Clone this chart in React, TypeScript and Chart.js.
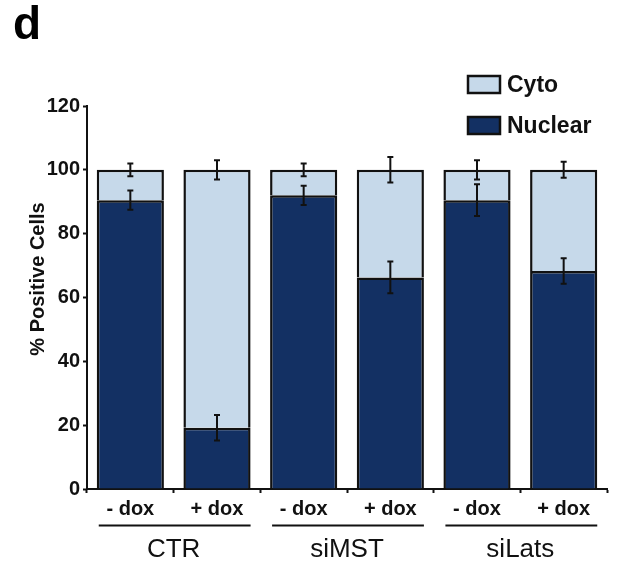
import React, { useEffect, useRef } from "react";
import { Chart, registerables } from "chart.js";

Chart.register(...registerables);

const categories = ["- dox", "+ dox", "- dox", "+ dox", "- dox", "+ dox"];
const groups = ["CTR", "siMST", "siLats"];
const nuclear = [90.5, 19.2, 92.0, 66.3, 90.5, 68.3];
const cyto = [9.5, 80.8, 8.0, 33.7, 9.5, 31.7];
const nuclearErr = [3, 4, 3, 5, 5, 4];
const cytoErr = [2, 3, 2, 4, 3, 2.5];
const yTicks = [0, 20, 40, 60, 80, 100, 120];

const CYTO_COLOR = "#C6D9EA";
const NUC_COLOR = "#133063";
const INK = "#111111";
const FONT = "'Liberation Sans', Arial, Helvetica, sans-serif";

const decorPlugin = {
  id: "decor",
  afterDatasetsDraw(chart: any) {
    const ctx = chart.ctx;
    const x = chart.scales.x;
    const y = chart.scales.y;
    ctx.save();
    // error bars
    ctx.strokeStyle = INK;
    ctx.lineWidth = 2;
    const cap = 3;
    const drawErr = (cx: number, v: number, e: number) => {
      const y1 = y.getPixelForValue(v - e);
      const y2 = y.getPixelForValue(v + e);
      ctx.beginPath();
      ctx.moveTo(cx, y1);
      ctx.lineTo(cx, y2);
      ctx.moveTo(cx - cap, y1);
      ctx.lineTo(cx + cap, y1);
      ctx.moveTo(cx - cap, y2);
      ctx.lineTo(cx + cap, y2);
      ctx.stroke();
    };
    categories.forEach((_, i) => {
      const cx = x.getPixelForValue(i);
      drawErr(cx, nuclear[i], nuclearErr[i]);
      drawErr(cx, nuclear[i] + cyto[i], cytoErr[i]);
    });
    ctx.restore();
  },
  afterDraw(chart: any) {
    const ctx = chart.ctx;
    const x = chart.scales.x;
    const meta = chart.getDatasetMeta(0);
    ctx.save();
    // group underlines and labels
    groups.forEach((g, gi) => {
      const b1 = meta.data[gi * 2];
      const b2 = meta.data[gi * 2 + 1];
      const left = b1.x - b1.width / 2 + 2;
      const right = b2.x + b2.width / 2;
      ctx.strokeStyle = INK;
      ctx.lineWidth = 2.2;
      ctx.beginPath();
      ctx.moveTo(left, 525.5);
      ctx.lineTo(right, 525.5);
      ctx.stroke();
      const cx = (x.getPixelForValue(gi * 2) + x.getPixelForValue(gi * 2 + 1)) / 2;
      ctx.fillStyle = INK;
      ctx.font = `26px ${FONT}`;
      ctx.textAlign = "center";
      ctx.textBaseline = "alphabetic";
      ctx.fillText(g, cx, 557);
    });
    // y-axis title
    ctx.save();
    ctx.translate(44, 279);
    ctx.rotate(-Math.PI / 2);
    ctx.font = `bold 20px ${FONT}`;
    ctx.fillStyle = INK;
    ctx.textAlign = "center";
    ctx.textBaseline = "alphabetic";
    ctx.fillText("% Positive Cells", 0, 0);
    ctx.restore();
    // panel letter
    ctx.font = `bold 46px ${FONT}`;
    ctx.fillStyle = "#000";
    ctx.textAlign = "left";
    ctx.textBaseline = "alphabetic";
    ctx.fillText("d", 13, 39);
    // legend (Cyto first, then Nuclear)
    const items = [chart.data.datasets[1], chart.data.datasets[0]];
    items.forEach((ds: any, i: number) => {
      const bx = 468;
      const by = 76 + i * 41;
      ctx.fillStyle = ds.backgroundColor;
      ctx.fillRect(bx, by, 32, 17);
      ctx.strokeStyle = INK;
      ctx.lineWidth = 2.5;
      ctx.strokeRect(bx, by, 32, 17);
      ctx.fillStyle = INK;
      ctx.font = `bold 23px ${FONT}`;
      ctx.textAlign = "left";
      ctx.textBaseline = "middle";
      ctx.fillText(ds.label, 507, by + 9.5);
    });
    ctx.restore();
  },
};

export default function App() {
  const ref = useRef<HTMLCanvasElement | null>(null);
  useEffect(() => {
    document.body.style.margin = "0";
    const canvas = ref.current;
    if (!canvas) return;
    const chart = new Chart(canvas, {
      type: "bar",
      data: {
        labels: categories,
        datasets: [
          {
            label: "Nuclear",
            data: nuclear,
            backgroundColor: NUC_COLOR,
            borderColor: INK,
            borderWidth: 2.5,
            barPercentage: 0.775,
            categoryPercentage: 1,
          },
          {
            label: "Cyto",
            data: cyto,
            backgroundColor: CYTO_COLOR,
            borderColor: INK,
            borderWidth: 2.5,
            barPercentage: 0.775,
            categoryPercentage: 1,
          },
        ],
      },
      options: {
        animation: false,
        responsive: false,
        devicePixelRatio: 1,
        layout: { padding: { top: 106, right: 14, left: 0, bottom: 0 } },
        plugins: { legend: { display: false }, tooltip: { enabled: false } },
        scales: {
          x: {
            stacked: true,
            offset: true,
            grid: {
              offset: true,
              drawOnChartArea: false,
              drawTicks: true,
              tickLength: 4,
              tickColor: INK,
              tickWidth: 2,
            },
            border: { color: INK, width: 2 },
            ticks: {
              color: INK,
              padding: 4,
              maxRotation: 0,
              font: { family: FONT, size: 20, weight: "bold" },
            },
            afterFit: (s: any) => {
              s.height = 83;
            },
          },
          y: {
            stacked: true,
            min: 0,
            max: 120,
            afterBuildTicks: (s: any) => {
              s.ticks = yTicks.map((v) => ({ value: v }));
            },
            grid: {
              drawOnChartArea: false,
              drawTicks: true,
              tickLength: 4,
              tickColor: INK,
              tickWidth: 2,
            },
            border: { color: INK, width: 2 },
            ticks: {
              color: INK,
              padding: 3,
              font: { family: FONT, size: 20, weight: "bold" },
            },
            afterFit: (s: any) => {
              s.width = 87;
            },
          },
        },
      },
      plugins: [decorPlugin],
    });
    return () => chart.destroy();
  }, []);
  return <canvas ref={ref} width={621} height={572} />;
}
